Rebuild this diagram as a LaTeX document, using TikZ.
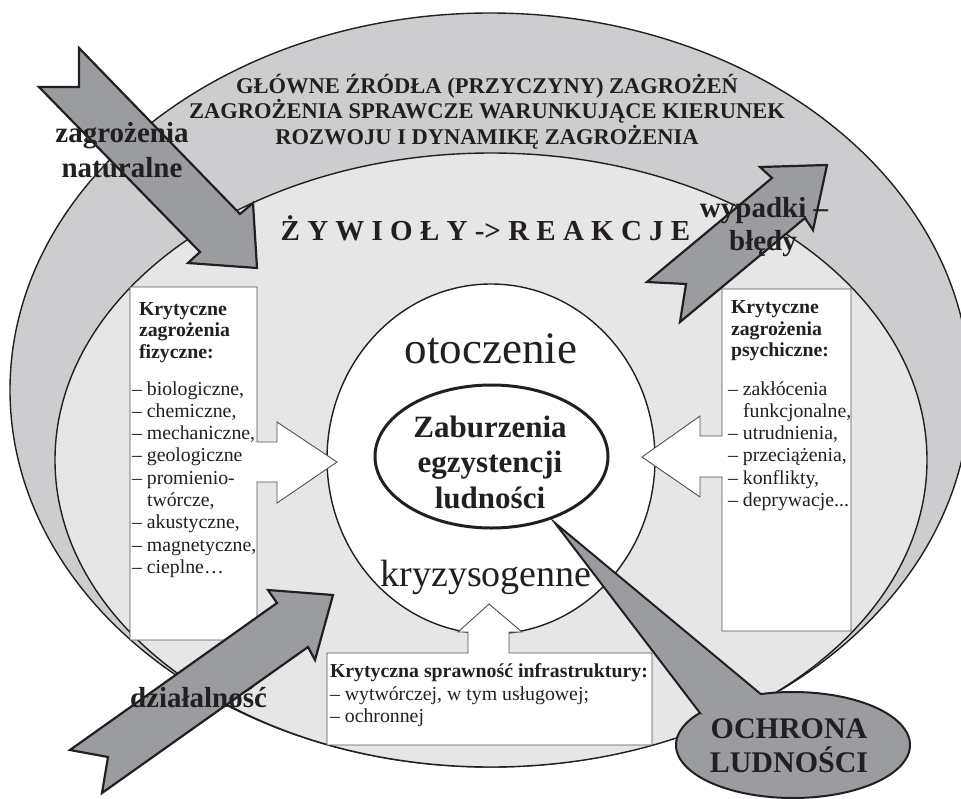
\documentclass[tikz,border=0pt]{standalone}
\usepackage{fontspec}
\setmainfont{Liberation Serif}
\definecolor{ringgray}{RGB}{205,205,208}
\definecolor{innergray}{RGB}{230,230,230}
\definecolor{arrowgray}{RGB}{154,156,160}
\definecolor{ink}{RGB}{35,31,32}
\definecolor{boxline}{RGB}{80,80,80}
\begin{document}
\begin{tikzpicture}[x=1pt,y=-1pt,
  lbl/.style={inner sep=0pt, outer sep=0pt, text=ink},
  bxhead/.style={lbl, anchor=base west, font=\fontsize{19.8}{22}\selectfont\bfseries},
  bxitem/.style={lbl, anchor=base west, font=\fontsize{19.8}{22}\selectfont},
  bigtxt/.style={lbl, anchor=base, font=\fontsize{29}{35}\selectfont\bfseries},
  hdtxt/.style={lbl, anchor=base, font=\fontsize{22.5}{25.5}\selectfont\bfseries},
  grayarrow/.style={fill=arrowgray, draw=ink, line width=2.2pt, line join=miter},
  whitebox/.style={fill=white, draw=boxline, line width=0.9pt, line join=miter},
  edgeline/.style={draw=ink, line width=1.4pt}
]
\useasboundingbox (0,0) rectangle (961,798);

% rings
\path[edgeline, fill=ringgray] (490,390) ellipse [x radius=480, y radius=377];
\path[edgeline, fill=innergray] (491,460) ellipse [x radius=436, y radius=307];
% white circle
\path[edgeline, fill=white] (491,459) ellipse [x radius=164, y radius=175];
% central ellipse
\path[draw=ink, line width=3pt, fill=white] (491.5,456.5) ellipse [x radius=116.5, y radius=71.5];

% header texts
\node[hdtxt] (h1) at (487,93) {GŁÓWNE ŹRÓDŁA (PRZYCZYNY) ZAGROŻEŃ};
\node[hdtxt] (h2) at (487,118.5) {ZAGROŻENIA SPRAWCZE WARUNKUJĄCE KIERUNEK};
\node[hdtxt] (h3) at (487,144) {ROZWOJU I DYNAMIKĘ ZAGROŻENIA};
\node[bigtxt] (zr) at (485.5,240) {Ż Y W I O Ł Y -> R E A K C J E};

% circle texts
\node[lbl, anchor=base, font=\fontsize{45}{50}\selectfont] (ot) at (491,363) {otoczenie};
\node[lbl, anchor=base, font=\fontsize{38}{44}\selectfont] (kr) at (486,586) {kryzysogenne};
\node[lbl, anchor=base, font=\fontsize{31}{36}\selectfont\bfseries] (z1) at (490,437) {Zaburzenia};
\node[lbl, anchor=base, font=\fontsize{31}{36}\selectfont\bfseries] (z2) at (490,472.5) {egzystencji};
\node[lbl, anchor=base, font=\fontsize{31}{36}\selectfont\bfseries] (z3) at (490,508) {ludności};

% left box with arrow
\path[whitebox] (130,287) -- (257,287) -- (257,442) -- (277,442) -- (277,422)
  -- (337,462) -- (277,503) -- (277,482) -- (257,482) -- (257,640) -- (130,640) -- cycle;
\node[bxhead] (lh1) at (139,315) {Krytyczne};
\node[bxhead] (lh2) at (139,336.5) {zagrożenia};
\node[bxhead] (lh3) at (139,358) {fizyczne:};
\node[bxitem] (l1) at (132,395) {– biologiczne,};
\node[bxitem] (l2) at (132,417.3) {– chemiczne,};
\node[bxitem] (l3) at (132,439.6) {– mechaniczne,};
\node[bxitem] (l4) at (132,461.9) {– geologiczne};
\node[bxitem] (l5) at (132,484.2) {– promienio-};
\node[bxitem] (l6) at (147,506.5) {twórcze,};
\node[bxitem] (l7) at (132,528.8) {– akustyczne,};
\node[bxitem] (l8) at (132,551.1) {– magnetyczne,};
\node[bxitem] (l9) at (132,573.4) {– cieplne…};

% right box with arrow
\path[whitebox] (722,289) -- (851,289) -- (851,631) -- (722,631) -- (722,477)
  -- (700,477) -- (700,497) -- (642,457) -- (700,416) -- (700,436) -- (722,436) -- cycle;
\node[bxhead] (rh1) at (731,313.5) {Krytyczne};
\node[bxhead] (rh2) at (731,335) {zagrożenia};
\node[bxhead] (rh3) at (731,356.5) {psychiczne:};
\node[bxitem] (r1) at (728,395) {– zakłócenia};
\node[bxitem] (r2) at (743,417.3) {funkcjonalne,};
\node[bxitem] (r3) at (728,439.6) {– utrudnienia,};
\node[bxitem] (r4) at (728,461.9) {– przeciążenia,};
\node[bxitem] (r5) at (728,484.2) {– konflikty,};
\node[bxitem] (r6) at (728,506.5) {– deprywacje...};

% bottom box with up arrow
\path[whitebox] (327,653) -- (468,653) -- (468,632) -- (458,632) -- (489,604)
  -- (522,632) -- (509,632) -- (509,653) -- (652,653) -- (652,745) -- (327,745) -- cycle;
\node[bxhead] (bh) at (330,677.5) {Krytyczna sprawność infrastruktury:};
\node[bxitem] (b1) at (330,700) {– wytwórczej, w tym usługowej;};
\node[bxitem] (b2) at (330,722.5) {– ochronnej};

% gray arrows
\path[grayarrow] (79,48) -- (240,214) -- (253,203) -- (257,268) -- (188,263)
  -- (200,252) -- (39,87) -- (79,87) -- cycle;
\path[grayarrow] (647,282) -- (772,178) -- (760,167) -- (827,165) -- (813,230)
  -- (805,218) -- (680,322) -- (686,284) -- cycle;
\path[grayarrow] (70,750) -- (277,603) -- (268,590) -- (333,595) -- (315,660)
  -- (308,647) -- (102,793) -- (108,757) -- cycle;

\node[bigtxt] (n1) at (122,142) {zagrożenia};
\node[bigtxt] (n2) at (122,177) {naturalne};
\node[bigtxt] (w1) at (764,217) {wypadki –};
\node[bigtxt] (w2) at (763,250) {błędy};
\node[bigtxt] (dz) at (198.5,707) {działalność};

% callout
\path[fill=arrowgray, draw=ink, line width=2pt, line join=miter]
  (555,523) -- (700,713) -- plot[domain=217.2:-106, samples=150] ({793+117*cos(\x)},{745+53*sin(\x)}) -- cycle;
\node[lbl, anchor=base, font=\fontsize{30}{34}\selectfont\bfseries] (o1) at (789,738) {OCHRONA};
\node[lbl, anchor=base, font=\fontsize{30}{34}\selectfont\bfseries] (o2) at (789,772) {LUDNOŚCI};
\end{tikzpicture}
\end{document}
